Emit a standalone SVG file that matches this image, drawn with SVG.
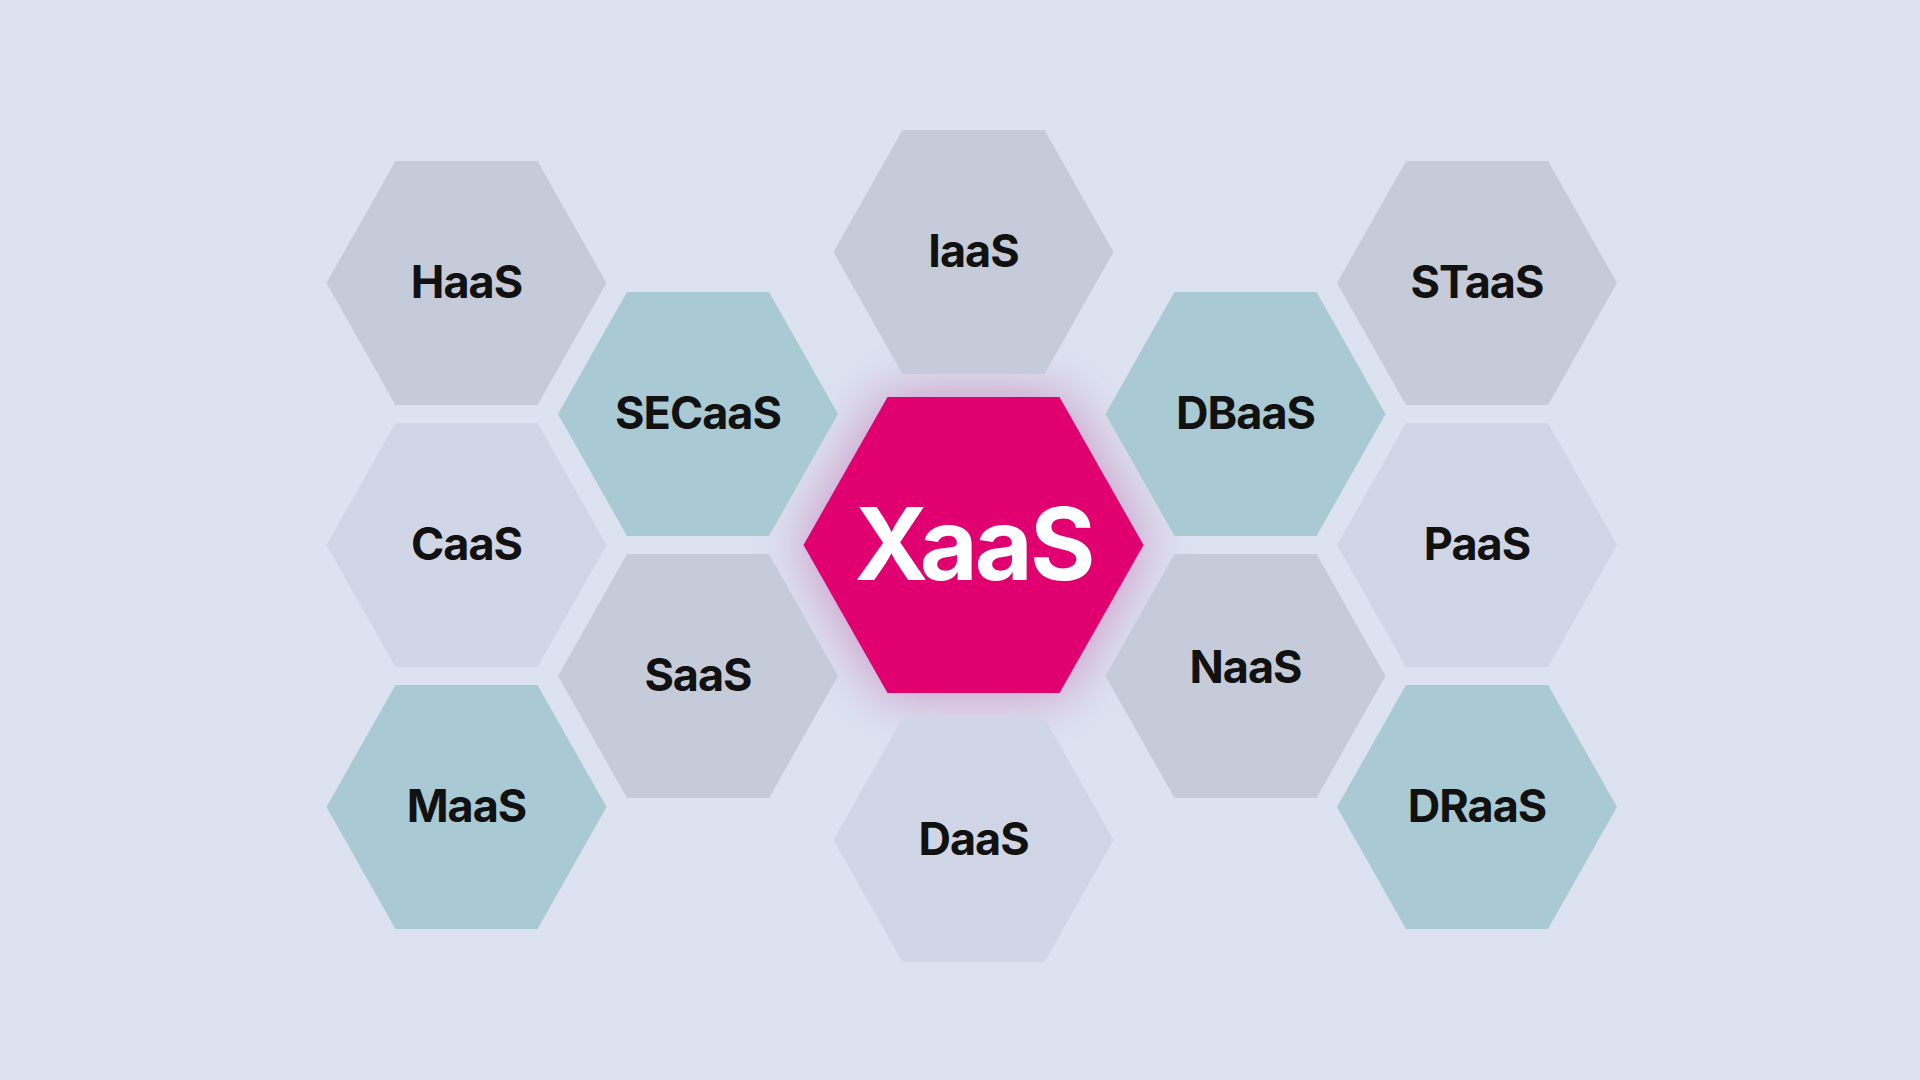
<svg xmlns="http://www.w3.org/2000/svg" width="1920" height="1080" viewBox="0 0 1920 1080">
<style>
.g{fill:#c5cbd9}.l{fill:#d0d6e6}.t{fill:#a9cad4}
text{font-family:Inter,"Liberation Sans",sans-serif;font-weight:700;font-size:45px;fill:#111;text-anchor:middle;letter-spacing:-1px}
</style>
<defs>
<path id="h" d="M-140,0 L-71,-122 L71,-122 L140,0 L71,122 L-71,122 Z"/>
<filter id="glow" x="-50%" y="-50%" width="200%" height="200%"><feGaussianBlur stdDeviation="28"/></filter>
</defs>
<rect width="1920" height="1080" fill="#dce2f0"/>
<g id="glowbg"><path d="M-170,0 L-86,-148 L86,-148 L170,0 L86,148 L-86,148 Z" transform="translate(973.5,545)" fill="#c04aa0" opacity="0.55" filter="url(#glow)"/></g>
<g id="haas"><use href="#h" class="g" x="466.5" y="283"/><text x="466.5" y="298">HaaS</text></g>
<g id="caas"><use href="#h" class="l" x="466.5" y="545"/><text x="466.5" y="560">CaaS</text></g>
<g id="maas"><use href="#h" class="t" x="466.5" y="807"/><text x="466.5" y="822">MaaS</text></g>
<g id="secaas"><use href="#h" class="t" x="698" y="414"/><text x="698" y="429">SECaaS</text></g>
<g id="saas"><use href="#h" class="g" x="698" y="676"/><text x="698" y="691">SaaS</text></g>
<g id="iaas"><use href="#h" class="g" x="973.5" y="252"/><text x="973.5" y="267">IaaS</text></g>
<g id="daas"><use href="#h" class="l" x="973.5" y="840"/><text x="973.5" y="855">DaaS</text></g>
<g id="dbaas"><use href="#h" class="t" x="1245.5" y="414"/><text x="1245.5" y="429">DBaaS</text></g>
<g id="naas"><use href="#h" class="g" x="1245.5" y="676"/><text x="1245.5" y="683">NaaS</text></g>
<g id="staas"><use href="#h" class="g" x="1477" y="283"/><text x="1477" y="298">STaaS</text></g>
<g id="paas"><use href="#h" class="l" x="1477" y="545"/><text x="1477" y="560">PaaS</text></g>
<g id="draas"><use href="#h" class="t" x="1477" y="807"/><text x="1477" y="822">DRaaS</text></g>
<g id="xaas"><path d="M-170,0 L-86,-148 L86,-148 L170,0 L86,148 L-86,148 Z" transform="translate(973.5,545)" fill="#e00070"/><text x="973.5" y="580" style="font-size:100px;fill:#fff;letter-spacing:-3px">XaaS</text></g>
<g id="connectors"/>
</svg>
